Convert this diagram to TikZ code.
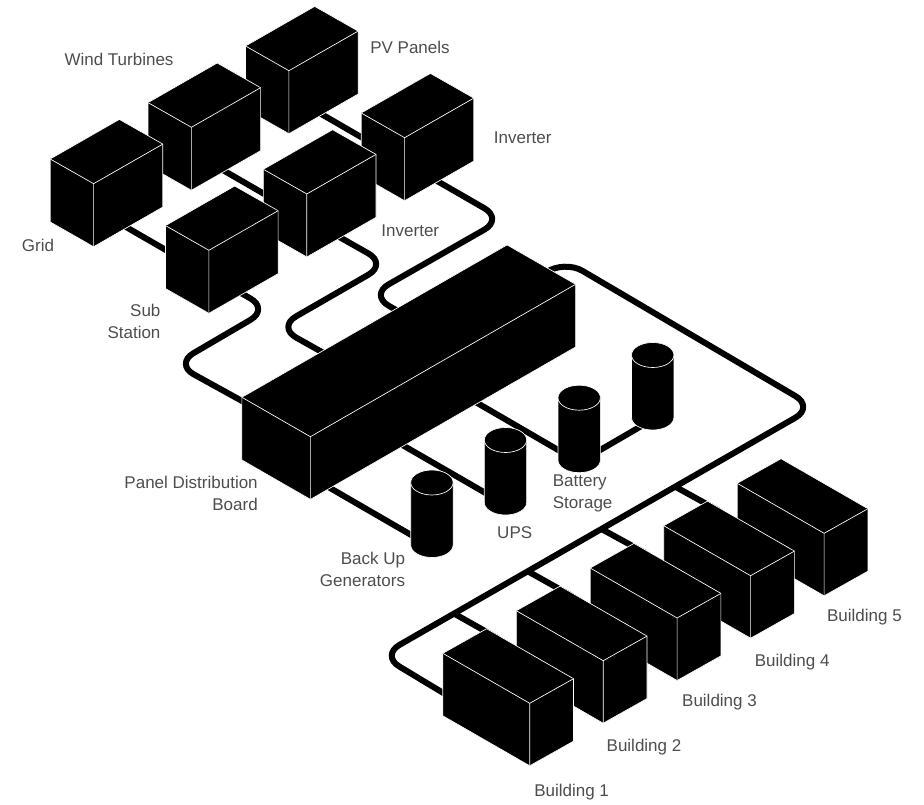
\documentclass[tikz,border=0pt]{standalone}
\usepackage{fontspec}
\setmainfont{Liberation Sans}
\usetikzlibrary{calc}
\pgfdeclarelayer{wires}
\pgfsetlayers{wires,main}
\definecolor{tagcolor}{HTML}{4D4D4D}
\newcommand{\isoblock}[5]{
  \coordinate (#1) at ($#2+(0,0.39*#5)$);
  \coordinate (#1-l) at ($#2+#3$);
  \coordinate (#1-r) at ($#2+#4$);
  \coordinate (#1-a) at ($#2+#3+#4$);
  \filldraw[blockface] (#1-l) -- (#1-a) -- (#1-r) -- ($(#1-r)+(0,#5)$) -- ($#2+(0,#5)$) -- ($(#1-l)+(0,#5)$) -- cycle;
  \draw[blockface] (#1-l) -- #2 -- (#1-r) #2 -- +(0,#5);
}
\newcommand{\sourcebox}[2]{\isoblock{#1}{#2}{(-43.4,-24.7)}{(69.2,-39.6)}{63}}
\newcommand{\buildingbox}[2]{\isoblock{#1}{#2}{(-86.9,-50)}{(43.8,-24.6)}{62.5}}
\newcommand{\drum}[3]{
  \coordinate (#1) at (#2,#3+64.5);
  \filldraw[blockface] (#2-21.2,#3) arc (180:360:21.2 and 12.5) -- (#2+21.2,#3+62.5) arc (0:180:21.2 and 12.5) -- cycle;
  \draw[blockface] (#2-21.2,#3) arc (180:0:21.2 and 12.5);
}
\begin{document}
\begin{tikzpicture}[
    x=0.75pt, y=-0.75pt,
    blockface/.style={fill=black, draw=white, line width=0.5pt},
    wire/.style={draw=black, line width=4.5pt, rounded corners=16pt},
    tag/.style={text=tagcolor, font=\fontsize{12.75}{16.5}\selectfont, inner sep=0pt}
]
\useasboundingbox (0,0) rectangle (924,805);
\sourcebox{pv}{(288.9,70.7)}
\sourcebox{wind}{(191.4,127.3)}
\sourcebox{grid}{(93.6,183.7)}
\sourcebox{inv1}{(404.6,137.7)}
\sourcebox{inv2}{(306.8,194)}
\sourcebox{sub}{(208.9,250.3)}
\isoblock{board}{(310.4,436.7)}{(-68.5,-39.4)}{(265.2,-152.4)}{62.7}
\drum{gen}{431.9}{482.5}
\drum{ups}{505.5}{440}
\drum{bat1}{579.2}{397.7}
\drum{bat2}{652.7}{355}
\buildingbox{bldg5}{(824.1,533.3)}
\buildingbox{bldg4}{(750.6,575.7)}
\buildingbox{bldg3}{(677.1,618)}
\buildingbox{bldg2}{(603.2,660.7)}
\buildingbox{bldg1}{(529.7,703.3)}
\coordinate (feed1) at (410,318);
\coordinate (feed2) at (337,360.5);
\coordinate (feed3) at (262,412);
\coordinate (feed4) at (310.4,476.6);
\coordinate (feed5) at (385,435);
\coordinate (feed6) at (460,393);
\coordinate (feed7) at (530,283.6);
\coordinate (tap1) at (454.3,613.7);
\coordinate (tap2) at (528,571.4);
\coordinate (tap3) at (601.7,529.1);
\coordinate (tap4) at (675.4,486.8);
\begin{pgfonlayer}{wires}
\draw[wire] (pv) -- (inv1);
\draw[wire] (wind) -- (inv2);
\draw[wire] (grid) -- (sub);
\draw[wire] (inv1) -- (503,219) -- (370,295) -- (feed1);
\draw[wire] (inv2) -- (387,264) -- (277.5,327.1) -- (feed2);
\draw[wire] (sub) -- (269,309) -- (175,364) -- (feed3);
\draw[wire] (feed4) -- (gen);
\draw[wire] (feed5) -- (ups);
\draw[wire] (feed6) -- (bat1);
\draw[wire] (bat1) -- (bat2);
\draw[wire] (feed7) -- (564,260) -- (814,407) -- (381,655.5) -- ([shift={(17.2,49.7)}]bldg1-l);
\draw[wire] (tap1) -- ([shift={(12,10)}]bldg1-a);
\draw[wire] (tap2) -- ([shift={(12,10)}]bldg2-a);
\draw[wire] (tap3) -- ([shift={(12,10)}]bldg3-a);
\draw[wire] (tap4) -- ([shift={(12,10)}]bldg4-a);
\end{pgfonlayer}
\node (pvtag) [tag] at (410,47) {PV Panels};
\node (windtag) [tag] at (119,59) {Wind Turbines};
\node (inv1tag) [tag] at (522.7,138) {Inverter};
\node (inv2tag) [tag] at (410.3,231) {Inverter};
\node (gridtag) [tag] at (38,245) {Grid};
\node (subtag) [tag, anchor=east, align=right] at (160.7,321) {Sub\\Station};
\node (boardtag) [tag, anchor=east, align=right] at (258,493) {Panel Distribution\\Board};
\node (gentag) [tag, anchor=east, align=right] at (405.3,569) {Back Up\\Generators};
\node (upstag) [tag] at (514.7,533) {UPS};
\node (battag) [tag, anchor=west, align=left] at (552.6,493) {Battery\\Storage};
\node (tag1) [tag] at (571.6,792) {Building 1};
\node (tag2) [tag] at (644,747) {Building 2};
\node (tag3) [tag] at (719.5,702) {Building 3};
\node (tag4) [tag] at (792.2,662) {Building 4};
\node (tag5) [tag] at (864.4,617) {Building 5};
\end{tikzpicture}
\end{document}
